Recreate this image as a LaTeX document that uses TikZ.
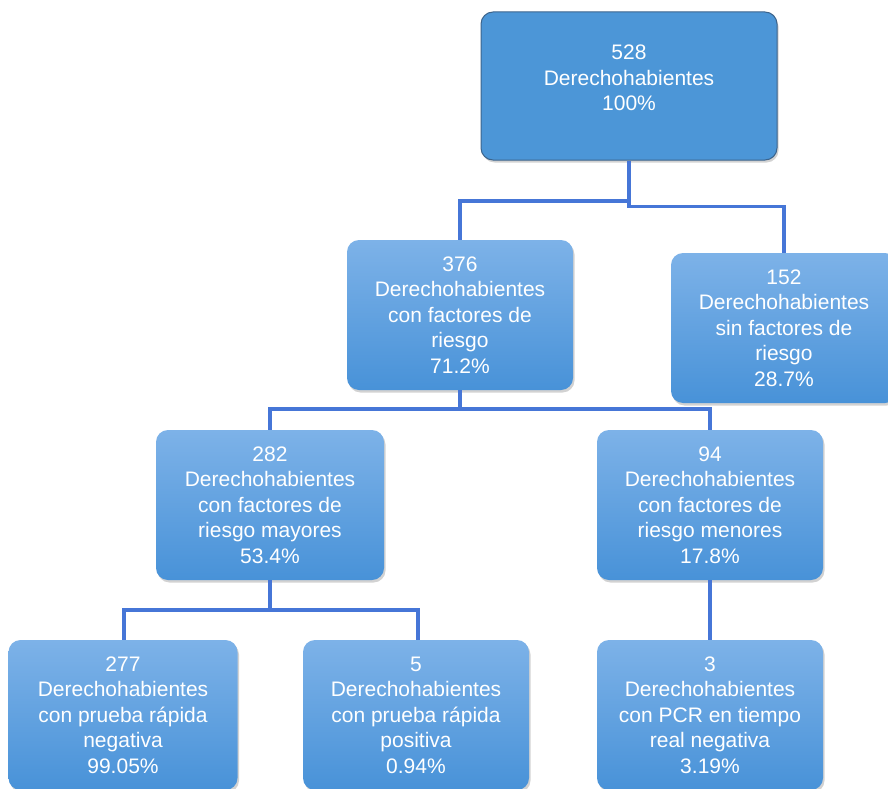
\documentclass[tikz,border=0pt]{standalone}
\usepackage{fontspec}
\setmainfont{Liberation Sans}
\usetikzlibrary{shadows}
\definecolor{topfill}{RGB}{76,150,215}
\definecolor{topedge}{RGB}{60,100,140}
\definecolor{gtop}{RGB}{125,178,232}
\definecolor{gbot}{RGB}{72,146,216}
\definecolor{conncol}{RGB}{70,118,215}
\begin{document}
\begin{tikzpicture}[x=1pt,y=-1pt,
  txt/.style={text=white,align=center,font=\fontsize{21}{25.5}\selectfont},
  gbox/.style={txt,rounded corners=12pt,minimum width=226pt,minimum height=150pt,
    top color=gtop,bottom color=gbot,draw=none,
    drop shadow={opacity=0.35,shadow xshift=1.5pt,shadow yshift=-2.5pt}},
  topbox/.style={rounded corners=12pt,minimum width=296pt,minimum height=148pt,
    fill=topfill,draw=topedge,line width=1pt,
    drop shadow={opacity=0.35,shadow xshift=1.5pt,shadow yshift=-2.5pt}},
  conn/.style={draw=conncol,line width=3.2pt}]
\useasboundingbox (0,0) rectangle (888,789);
\clip (0,0) rectangle (888,789);
\fill[white] (0,0) rectangle (888,789);
% junctions
\coordinate (j1) at (629,201);
\coordinate (j2) at (629,206.5);
\coordinate (j3) at (460,409);
\coordinate (j4) at (270,610);
% boxes
\node[topbox] (top) at (629,86) {};
\node[txt] (toptext) at (629,78) {528\\Derechohabientes\\100\%};
\node[gbox] (n376) at (460,315) {376\\Derechohabientes\\con factores de\\riesgo\\71.2\%};
\node[gbox] (n152) at (784,328) {152\\Derechohabientes\\sin factores de\\riesgo\\28.7\%};
\node[gbox,minimum width=228pt] (n282) at (270,505) {282\\Derechohabientes\\con factores de\\riesgo mayores\\53.4\%};
\node[gbox] (n94) at (710,505) {94\\Derechohabientes\\con factores de\\riesgo menores\\17.8\%};
\node[gbox,minimum width=229pt] (n277) at (123,715) {277\\Derechohabientes\\con prueba rápida\\negativa\\99.05\%};
\node[gbox] (n5) at (416,715) {5\\Derechohabientes\\con prueba rápida\\positiva\\0.94\%};
\node[gbox] (n3) at (710,715) {3\\Derechohabientes\\con PCR en tiempo\\real negativa\\3.19\%};
% lines
\draw[conn] (top.south) -- (j2) -| (n152.north);
\draw[conn] (j1) -| (n376.north);
\draw[conn] (n376.south) -- (j3);
\draw[conn] (j3) -| (n282.north);
\draw[conn] (j3) -| (n94.north);
\draw[conn] (n282.south) -- (j4);
\draw[conn] (j4) -| ([xshift=1pt]n277.north);
\draw[conn] (j4) -| ([xshift=2pt]n5.north);
\draw[conn] (n94.south) -- (n3.north);
\end{tikzpicture}
\end{document}
